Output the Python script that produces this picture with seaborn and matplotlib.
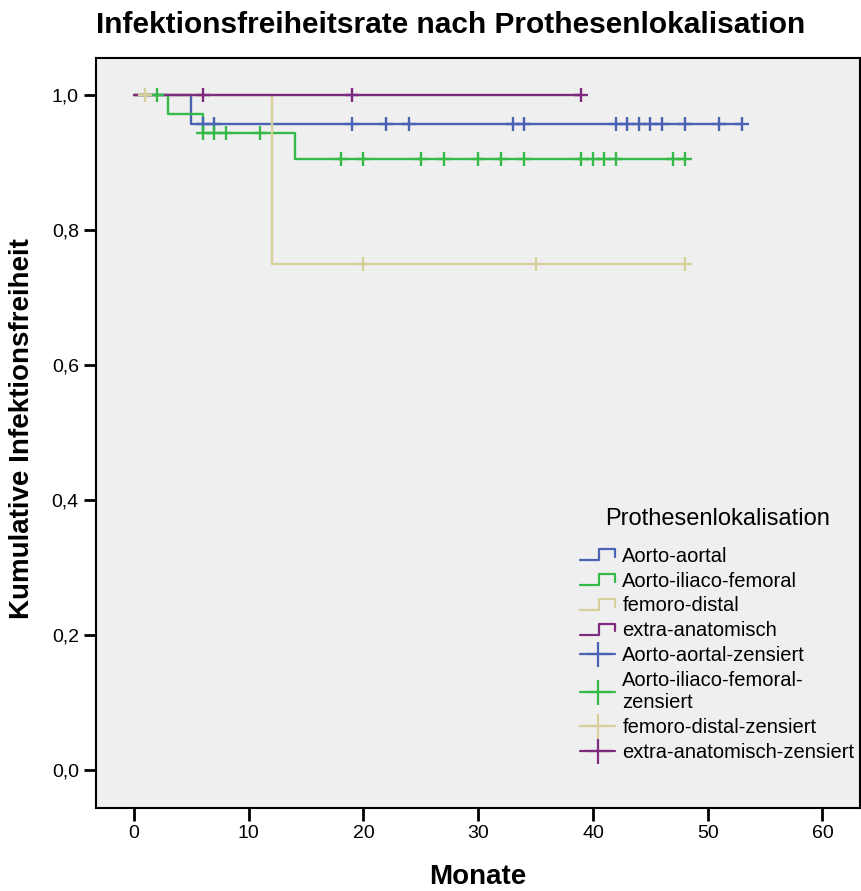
import numpy as np
import matplotlib
matplotlib.use("Agg")
import matplotlib.pyplot as plt
from matplotlib.lines import Line2D
from matplotlib.legend_handler import HandlerBase
import seaborn as sns

sns.set_theme(style="white")
plt.rcParams["font.family"] = ["Liberation Sans", "DejaVu Sans"]
plt.rcParams["text.color"] = "black"
plt.rcParams["axes.labelcolor"] = "black"

# Kaplan-Meier step curves (time in months, cumulative infection-free rate)
groups = ["Aorto-aortal", "Aorto-iliaco-femoral", "femoro-distal", "extra-anatomisch"]
colors = ["#4A62B4", "#35BA4A", "#D6D09A", "#7E2A7E"]

aa_t = [0, 5, 53]
aa_s = [1.0, 0.958, 0.958]
aa_cens = [6, 7, 19, 22, 24, 33, 34, 42, 43, 44, 45, 46, 48, 51, 53]

aif_t = [0, 3, 6, 14, 48]
aif_s = [1.0, 0.972, 0.944, 0.906, 0.906]
aif_cens = [2, 6, 7, 8, 11, 18, 20, 25, 27, 30, 32, 34, 39, 40, 41, 42, 47, 48]

fd_t = [0, 12, 48]
fd_s = [1.0, 0.75, 0.75]
fd_cens = [1, 20, 35, 48]

ea_t = [0, 39]
ea_s = [1.0, 1.0]
ea_cens = [6, 19, 39]

curves = [(aa_t, aa_s, aa_cens), (aif_t, aif_s, aif_cens),
          (fd_t, fd_s, fd_cens), (ea_t, ea_s, ea_cens)]

x_ticks = [0, 10, 20, 30, 40, 50, 60]
y_ticks = [0.0, 0.2, 0.4, 0.6, 0.8, 1.0]
y_ticklabels = ["0,0", "0,2", "0,4", "0,6", "0,8", "1,0"]


def surv_at(t_steps, s_steps, t):
    idx = np.searchsorted(np.asarray(t_steps), t, side="right") - 1
    return np.asarray(s_steps)[idx]


fig = plt.figure(figsize=(8.61, 8.91), dpi=100)
fig.patch.set_facecolor("white")
ax = fig.add_axes([95.5 / 861, 1 - 808 / 891, (860 - 95.5) / 861, (808 - 57.5) / 891])
ax.set_facecolor("#EFEFEF")

lw = 1.7
for (t, s, c), col in zip(curves, colors):
    sns.lineplot(x=t, y=s, drawstyle="steps-post", color=col, lw=lw,
                 estimator=None, sort=False, ax=ax, legend=False)

for (t, s, c), col in zip(curves, colors):
    ys = [surv_at(t, s, ci) for ci in c]
    sns.scatterplot(x=c, y=ys, marker="+", s=100, color=col, linewidth=1.7,
                    ax=ax, legend=False, zorder=5)

ax.set_xlim(-3.35, 63.27)
ax.set_ylim(-0.0563, 1.0559)
ax.set_xticks(x_ticks)
ax.set_xticklabels([str(v) for v in x_ticks])
ax.set_yticks(y_ticks)
ax.set_yticklabels(y_ticklabels)
ax.tick_params(axis="both", which="major", direction="out", length=9, width=2,
               labelsize=14, color="black", labelcolor="black", pad=3,
               bottom=True, left=True)
for side in ["top", "right", "bottom", "left"]:
    ax.spines[side].set_visible(True)
    ax.spines[side].set_color("black")
    ax.spines[side].set_linewidth(1.5)

fig.text(478 / 861, 1 - 877 / 891, "Monate", fontsize=20, fontweight="bold",
         ha="center", va="center")
fig.text(22 / 861, 1 - 429 / 891, "Kumulative Infektionsfreiheit", fontsize=20,
         fontweight="bold", ha="center", va="center", rotation=90)
fig.text(451 / 861, 1 - 25 / 891, "Infektionsfreiheitsrate nach Prothesenlokalisation",
         fontsize=21.5, fontweight="bold", ha="center", va="center")


class StepHandle:
    def __init__(self, color):
        self.color = color


class StepHandler(HandlerBase):
    def create_artists(self, legend, orig_handle, xdescent, ydescent,
                       width, height, fontsize, trans):
        x0, x1 = -xdescent, -xdescent + width
        xm = x0 + width * 0.53
        ylo = -ydescent + height * 0.1
        yhi = -ydescent + height * 0.9
        ymid = ylo + (yhi - ylo) * 0.3
        line = Line2D([x0, xm, xm, x1, x1], [ylo, ylo, yhi, yhi, ymid],
                      color=orig_handle.color, lw=1.6, transform=trans)
        return [line]


handles = [StepHandle(c) for c in colors]
handles += [Line2D([], [], color=c, lw=1.6, marker="+", markersize=18,
                   markeredgewidth=1.6) for c in colors]
labels = groups + ["Aorto-aortal-zensiert", "Aorto-iliaco-femoral-\nzensiert",
                   "femoro-distal-zensiert", "extra-anatomisch-zensiert"]

leg = ax.legend(handles, labels, handler_map={StepHandle: StepHandler()},
                title="Prothesenlokalisation", title_fontsize=17, fontsize=14.5,
                frameon=False, loc="upper left",
                bbox_to_anchor=(580 / 861, 1 - 508 / 891), bbox_transform=fig.transFigure,
                handlelength=1.75, handletextpad=0.35, labelspacing=0.29,
                borderaxespad=0, borderpad=0)
leg._legend_box.sep = 12

fig.savefig("out.png", dpi=100)
